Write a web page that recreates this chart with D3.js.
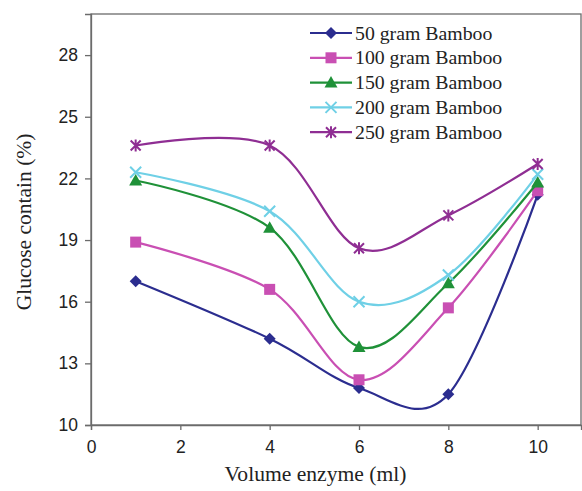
<!DOCTYPE html>
<html><head><meta charset="utf-8">
<script src="https://cdn.jsdelivr.net/npm/d3@7"></script>
<style>body{margin:0;background:#fff}svg{display:block}</style>
</head><body>
<svg id="c" width="582" height="491"></svg>
<script>
const xValues = [1, 4, 6, 8, 10];
const seriesNames = ["50 gram Bamboo", "100 gram Bamboo", "150 gram Bamboo", "200 gram Bamboo", "250 gram Bamboo"];
const s50  = [17.0, 14.2, 11.8, 11.5, 21.2];
const s100 = [18.9, 16.6, 12.2, 15.7, 21.4];
const s150 = [21.9, 19.6, 13.8, 16.9, 21.8];
const s200 = [22.3, 20.4, 16.0, 17.3, 22.2];
const s250 = [23.6, 23.6, 18.6, 20.2, 22.7];
const xTicks = [0, 2, 4, 6, 8, 10];
const yTicks = [10, 13, 16, 19, 22, 25, 28];

const colors = ["#2b2d8f", "#c94fb3", "#1f9138", "#6fd0e6", "#8f2e93"];
const markers = ["diamond", "square", "triangle", "x", "star"];
const allSeries = [s50, s100, s150, s200, s250];

const serif = "'Liberation Serif', 'Times New Roman', serif";
const sans = "'Liberation Sans', Arial, sans-serif";

const svg = d3.select("#c");
const L = 91, T = 14, R = 581, B = 425;
const x = d3.scaleLinear().domain([0, 10.97]).range([L, R]);
const y = d3.scaleLinear().domain([10, 30]).range([B, T]);

// frame
svg.append("rect").attr("x", L).attr("y", T).attr("width", R - L).attr("height", B - T)
  .attr("fill", "none").attr("stroke", "#6b6b6b").attr("stroke-width", 1.3);

const xAxis = svg.append("g").attr("transform", `translate(0,${B})`)
  .call(d3.axisBottom(x).tickValues(xTicks).tickSize(5).tickPadding(11).tickFormat(d3.format("d")));
const yAxis = svg.append("g").attr("transform", `translate(${L},0)`)
  .call(d3.axisLeft(y).tickValues(yTicks).tickSize(6).tickPadding(7).tickFormat(d3.format("d")));
[xAxis, yAxis].forEach(g => {
  g.select(".domain").attr("stroke", "#6b6b6b").attr("stroke-width", 1.3);
  g.selectAll(".tick line").attr("stroke", "#6b6b6b").attr("stroke-width", 1.3);
  g.selectAll(".tick text").attr("font-family", sans)
    .attr("font-size", 17.5).attr("fill", "#222");
});

const line = d3.line().x((d, i) => x(xValues[i])).y(d => y(d)).curve(d3.curveCardinal.tension(0));

function drawMarker(g, type, cx, cy, color) {
  if (type === "diamond") {
    g.append("path").attr("d", `M${cx},${cy-6}L${cx+6},${cy}L${cx},${cy+6}L${cx-6},${cy}Z`).attr("fill", color);
  } else if (type === "square") {
    g.append("rect").attr("x", cx-5.5).attr("y", cy-5.5).attr("width", 11).attr("height", 11).attr("fill", color);
  } else if (type === "triangle") {
    g.append("path").attr("d", `M${cx},${cy-6.5}L${cx+6.5},${cy+5}L${cx-6.5},${cy+5}Z`).attr("fill", color);
  } else if (type === "x") {
    g.append("path").attr("d", `M${cx-5.5},${cy-5.5}L${cx+5.5},${cy+5.5}M${cx+5.5},${cy-5.5}L${cx-5.5},${cy+5.5}`)
      .attr("stroke", color).attr("stroke-width", 2).attr("fill", "none");
  } else if (type === "star") {
    g.append("path").attr("d", `M${cx-5},${cy-5}L${cx+5},${cy+5}M${cx+5},${cy-5}L${cx-5},${cy+5}M${cx},${cy-6}L${cx},${cy+6}`)
      .attr("stroke", color).attr("stroke-width", 2).attr("fill", "none");
  }
}

allSeries.forEach((vals, si) => {
  const g = svg.append("g");
  g.append("path").datum(vals).attr("d", line).attr("fill", "none")
    .attr("stroke", colors[si]).attr("stroke-width", 2.2);
  vals.forEach((v, i) => drawMarker(g, markers[si], x(xValues[i]), y(v), colors[si]));
});

// legend
const lg = svg.append("g");
seriesNames.forEach((name, i) => {
  const cy = 33 + i * 24.8;
  lg.append("line").attr("x1", 310).attr("x2", 352).attr("y1", cy).attr("y2", cy)
    .attr("stroke", colors[i]).attr("stroke-width", 2.2);
  drawMarker(lg, markers[i], 331, cy, colors[i]);
  lg.append("text").attr("x", 355).attr("y", cy + 6.5).text(name)
    .attr("font-family", serif).attr("font-size", 19.8).attr("fill", "#222");
});

svg.append("text").attr("x", 315.5).attr("y", 481).attr("text-anchor", "middle")
  .attr("font-family", serif).attr("font-size", 21.6).attr("fill", "#222")
  .text("Volume enzyme (ml)");
svg.append("text").attr("transform", "translate(31,222) rotate(-90)").attr("text-anchor", "middle")
  .attr("font-family", serif).attr("font-size", 21.5).attr("fill", "#222")
  .text("Glucose contain (%)");
</script>
</body></html>
